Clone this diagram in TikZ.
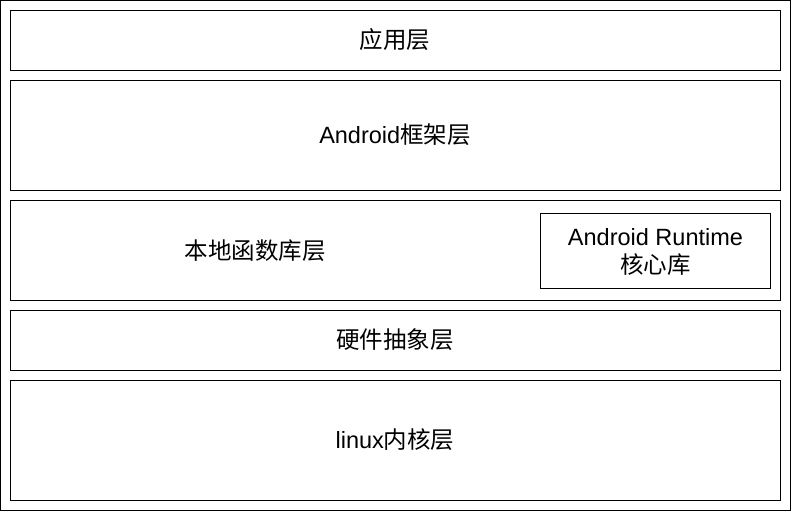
\documentclass[tikz,border=0pt]{standalone}
\usepackage{fontspec}
\setmainfont{Liberation Sans}
\newfontfamily\cjk{Noto Sans CJK SC}
\begin{document}
\begin{tikzpicture}[x=1pt,y=-1pt,
  layer/.style={draw,line width=1pt},
  lbl/.style={font=\fontsize{23.5}{28}\selectfont,align=center,inner sep=0pt}]
\useasboundingbox (0,0) rectangle (791,519);
\draw[layer] (0.5,0.5) rectangle (790.5,510.5);
\draw[layer] (10.5,10.5) rectangle (780.5,70.5);
\node[lbl] (app) at (395,40) {\cjk 应用层};
\draw[layer] (10.5,80.5) rectangle (780.5,190.5);
\node[lbl] (fw) at (395,135) {Android\cjk 框架层};
\draw[layer] (10.5,200.5) rectangle (780.5,300.5);
\node[lbl] (native) at (255,251) {\cjk 本地函数库层};
\draw[layer] (540.5,213.5) rectangle (770.5,288.5);
\node[lbl] (rt) at (655.5,252) {Android Runtime\\\cjk 核心库};
\draw[layer] (10.5,310.5) rectangle (780.5,370.5);
\node[lbl] (hal) at (395,340) {\cjk 硬件抽象层};
\draw[layer] (10.5,380.5) rectangle (780.5,500.5);
\node[lbl] (kern) at (395,440) {linux\cjk 内核层};
\end{tikzpicture}
\end{document}
